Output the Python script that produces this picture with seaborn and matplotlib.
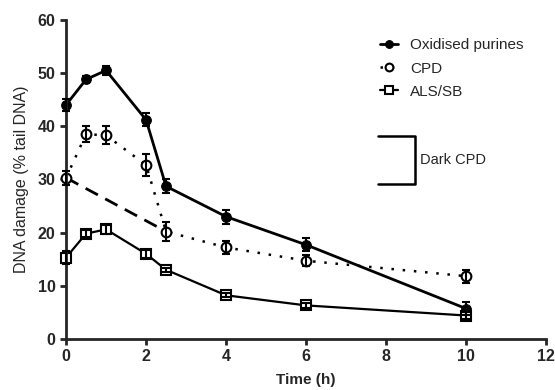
import matplotlib
matplotlib.use("Agg")
import matplotlib.pyplot as plt
import seaborn as sns
import pandas as pd
import numpy as np

time = [0, 0.5, 1, 2, 2.5, 4, 6, 10]
purines = [44.0, 48.8, 50.5, 41.2, 28.7, 23.0, 17.7, 5.7]
purines_err = [1.2, 0.6, 0.9, 1.2, 1.3, 1.3, 1.2, 1.2]
cpd = [30.3, 38.5, 38.3, 32.7, 20.2, 17.2, 14.7, 11.8]
cpd_err = [1.3, 1.5, 1.7, 2.0, 1.7, 1.2, 1.0, 1.2]
als = [15.3, 19.8, 20.6, 16.0, 13.0, 8.2, 6.3, 4.4]
als_err = [1.3, 0.6, 0.8, 0.8, 0.4, 0.4, 0.4, 0.6]
dark_t = [0, 2.5]
dark_v = [30.3, 20.2]

sns.set_style("ticks")
plt.rcParams['font.family'] = ['Liberation Sans', 'DejaVu Sans']

fig = plt.figure(figsize=(5.55, 3.9), dpi=100)
ax = fig.add_axes([0.119, 0.131, 0.865, 0.818])

df = pd.DataFrame({"t": time, "p": purines, "c": cpd, "a": als})

sns.lineplot(data=df, x="t", y="p", ax=ax, color="black", lw=2.0,
             marker="o", markersize=7, markerfacecolor="black",
             markeredgecolor="black", label="Oxidised purines", clip_on=False)
sns.lineplot(data=df, x="t", y="c", ax=ax, color="black", lw=1.8,
             linestyle=(0, (1, 3.5)), marker="o", markersize=7,
             markerfacecolor="white", markeredgecolor="black",
             markeredgewidth=1.5, label="CPD", clip_on=False)
sns.lineplot(data=df, x="t", y="a", ax=ax, color="black", lw=1.6,
             marker="s", markersize=7, markerfacecolor="white",
             markeredgecolor="black", markeredgewidth=1.5, label="ALS/SB",
             clip_on=False)
ax.plot(dark_t, dark_v, color="black", lw=2.0, linestyle=(0, (5, 3)), zorder=1)

for vals, errs in [(purines, purines_err), (cpd, cpd_err), (als, als_err)]:
    eb = ax.errorbar(time, vals, yerr=errs, fmt="none", ecolor="black",
                     elinewidth=1.5, capsize=3, capthick=1.5, zorder=3)
    for art in eb.lines[1] + eb.lines[2]:
        art.set_clip_on(False)

# Dark CPD bracket
ax.plot([7.8, 8.72, 8.72, 7.8], [38.2, 38.2, 29.1, 29.1], color="black", lw=1.8)
ax.text(8.85, 33.6, "Dark CPD", fontsize=10.5, va="center", ha="left")

ax.set_xlim(0, 12)
ax.set_ylim(0, 60)
ax.set_xticks([0, 2, 4, 6, 8, 10, 12])
ax.set_yticks([0, 10, 20, 30, 40, 50, 60])
ax.set_xlabel("Time (h)", fontsize=11, fontweight="bold", labelpad=6)
ax.set_ylabel("DNA damage (% tail DNA)", fontsize=11.5, labelpad=6)
for lbl in ax.get_xticklabels() + ax.get_yticklabels():
    lbl.set_fontweight("bold")
ax.tick_params(axis="both", labelsize=11.5, width=2, length=4, direction="out")
for s in ["left", "bottom"]:
    ax.spines[s].set_linewidth(2)
sns.despine(ax=ax)

leg = ax.legend(loc="upper left", bbox_to_anchor=(0.625, 0.985), frameon=False,
                fontsize=11, handlelength=1.2, labelspacing=0.6,
                markerscale=0.8)

fig.savefig("out.png", dpi=100)
